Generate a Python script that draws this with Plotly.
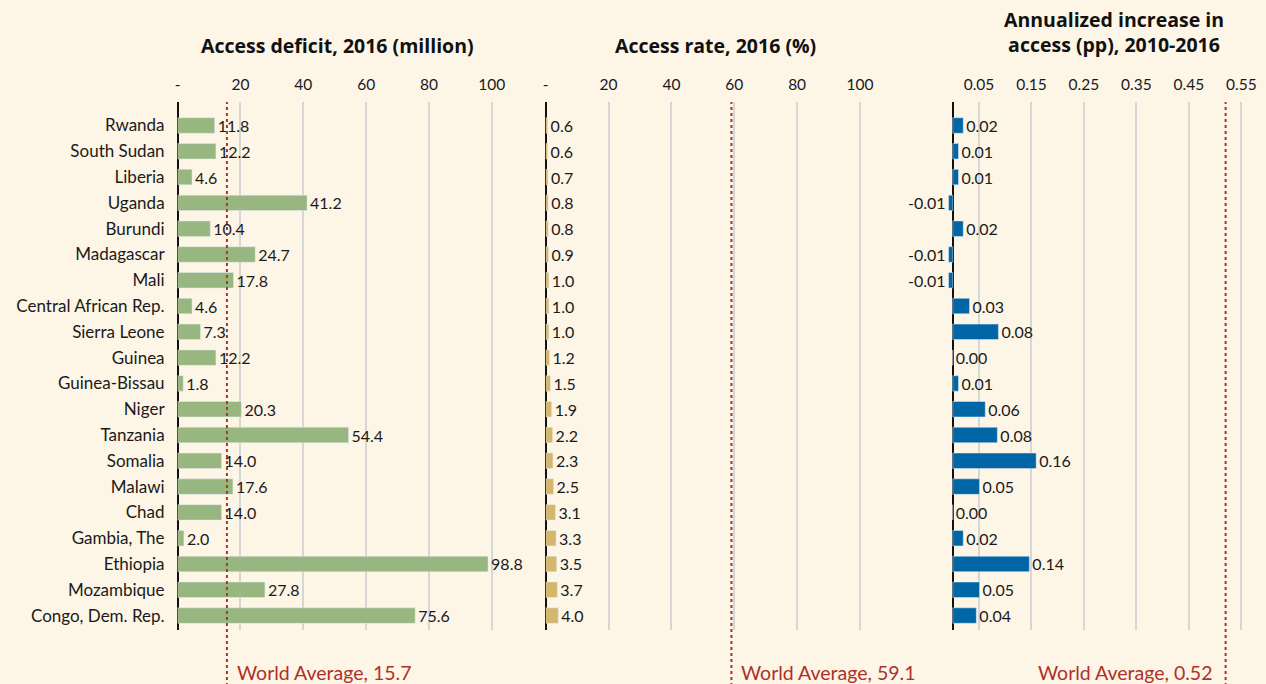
import plotly.graph_objects as go

countries = ["Rwanda", "South Sudan", "Liberia", "Uganda", "Burundi", "Madagascar", "Mali",
             "Central African Rep.", "Sierra Leone", "Guinea", "Guinea-Bissau", "Niger",
             "Tanzania", "Somalia", "Malawi", "Chad", "Gambia, The", "Ethiopia",
             "Mozambique", "Congo, Dem. Rep."]
deficit = [11.8, 12.2, 4.6, 41.2, 10.4, 24.7, 17.8, 4.6, 7.3, 12.2, 1.8, 20.3, 54.4, 14.0,
           17.6, 14.0, 2.0, 98.8, 27.8, 75.6]
access_rate = [0.6, 0.6, 0.7, 0.8, 0.8, 0.9, 1.0, 1.0, 1.0, 1.2, 1.5, 1.9, 2.2, 2.3, 2.5,
               3.1, 3.3, 3.5, 3.7, 4.0]
growth = [0.020, 0.011, 0.011, -0.008, 0.020, -0.008, -0.008, 0.032, 0.087, 0.0, 0.011,
          0.062, 0.085, 0.159, 0.051, 0.0, 0.020, 0.146, 0.051, 0.045]
growth_labels = ["0.02", "0.01", "0.01", "-0.01", "0.02", "-0.01", "-0.01", "0.03", "0.08",
                 "0.00", "0.01", "0.06", "0.08", "0.16", "0.05", "0.00", "0.02", "0.14",
                 "0.05", "0.04"]
world_avg = [15.7, 59.1, 0.52]
titles = ["Access deficit, 2016 (million)", "Access rate, 2016 (%)",
          "Annualized increase in<br>access (pp), 2010-2016"]
ticks_1 = [0, 20, 40, 60, 80, 100]
ticktext_1 = ["-", "20", "40", "60", "80", "100"]
ticks_3 = [-0.05, 0.05, 0.15, 0.25, 0.35, 0.45, 0.55]
ticktext_3 = ["", "0.05", "0.15", "0.25", "0.35", "0.45", "0.55"]

W, H = 1266, 684
FONT = "Lato"
BG = "#FDF5E6"
GRID = "#D6D6D6"
RED = "#B0302A"
TXT = "#1A1A1A"

fig = go.Figure()
fig.add_trace(go.Bar(y=countries, x=deficit, orientation="h", xaxis="x", yaxis="y",
                     marker_color="#97B680", width=0.6,
                     text=[f"{v:.1f}" for v in deficit], textposition="outside",
                     constraintext="none",
                     textfont=dict(size=16, color=TXT, family=FONT), cliponaxis=False))
fig.add_trace(go.Bar(y=countries, x=access_rate, orientation="h", xaxis="x2", yaxis="y",
                     marker_color="#D4B66C", width=0.6,
                     text=[f"{v:.1f}" for v in access_rate], textposition="outside",
                     constraintext="none",
                     textfont=dict(size=16, color=TXT, family=FONT), cliponaxis=False))
fig.add_trace(go.Bar(y=countries, x=growth, orientation="h", xaxis="x3", yaxis="y",
                     marker_color="#0066A6", width=0.6,
                     text=growth_labels, textposition="outside", constraintext="none",
                     textfont=dict(size=16, color=TXT, family=FONT), cliponaxis=False))

def px(x):
    return x / W

axis_common = dict(side="top", showgrid=True, gridcolor=GRID, gridwidth=1.5,
                   zeroline=True, zerolinecolor="#111111", zerolinewidth=1.5,
                   tickfont=dict(size=15.5, color=TXT, family=FONT), ticks="",
                   ticklabelstandoff=8, showline=False, fixedrange=True)

p1_scale = 3.15
fig.update_layout(
    xaxis=dict(domain=[px(175), px(523)], range=[0, 348 / p1_scale], anchor="y",
               tickmode="array", tickvals=ticks_1, ticktext=ticktext_1, **axis_common),
    xaxis2=dict(domain=[px(544), px(898)], range=[0, 354 / p1_scale], anchor="y",
                tickmode="array", tickvals=ticks_1, ticktext=ticktext_1, **axis_common),
    xaxis3=dict(domain=[px(925.7), px(1260)], range=[-0.05, -0.05 + 334.3 / 526], anchor="y",
                tickmode="array", tickvals=ticks_3, ticktext=ticktext_3, **axis_common),
    yaxis=dict(type="category", categoryorder="array", categoryarray=countries,
               range=[19.56, -0.911], showgrid=False, zeroline=False, ticks="",
               ticklabelstandoff=12, tickfont=dict(size=17, color=TXT, family=FONT),
               fixedrange=True, anchor="x"),
    width=W, height=H,
    margin=dict(l=0, r=0, t=102, b=54),
    paper_bgcolor=BG, plot_bgcolor=BG,
    showlegend=False, bargap=0.4,
    font=dict(family=FONT, color=TXT),
)

plot_h = H - 102 - 54
def py(pixel_y):
    return 1 + (102 - pixel_y) / plot_h

title_x = [335, 714, 1114]
title_y = [45, 45, 32]
for t, x, y in zip(titles, title_x, title_y):
    fig.add_annotation(text=f"<b>{t}</b>", xref="paper", yref="paper", x=px(x), y=py(y),
                       xanchor="center", yanchor="middle", showarrow=False,
                       font=dict(size=19.5, color="#111111", family="Open Sans"))

axes = ["x", "x2", "x3"]
for i, (ax, v) in enumerate(zip(axes, world_avg)):
    fig.add_shape(type="line", xref=ax, yref="paper", x0=v, x1=v, y0=py(H + 2), y1=1,
                  line=dict(color=RED, width=2, dash="dot"))
    if i < 2:
        fig.add_annotation(text=f"World Average, {v}", xref=ax, yref="paper", x=v, y=py(672),
                           xanchor="left", yanchor="middle", xshift=8, showarrow=False,
                           font=dict(size=19.5, color=RED, family=FONT))
    else:
        fig.add_annotation(text=f"World Average, {v:.2f}", xref=ax, yref="paper", x=v,
                           y=py(672), xanchor="right", yanchor="middle", xshift=-12,
                           showarrow=False, font=dict(size=19.5, color=RED, family=FONT))

fig.write_html("out.html", config={"displayModeBar": False},
               post_script="document.body.style.margin='0';"
                           "document.body.style.overflow='hidden';"
                           "document.body.style.background='#FDF5E6';")
